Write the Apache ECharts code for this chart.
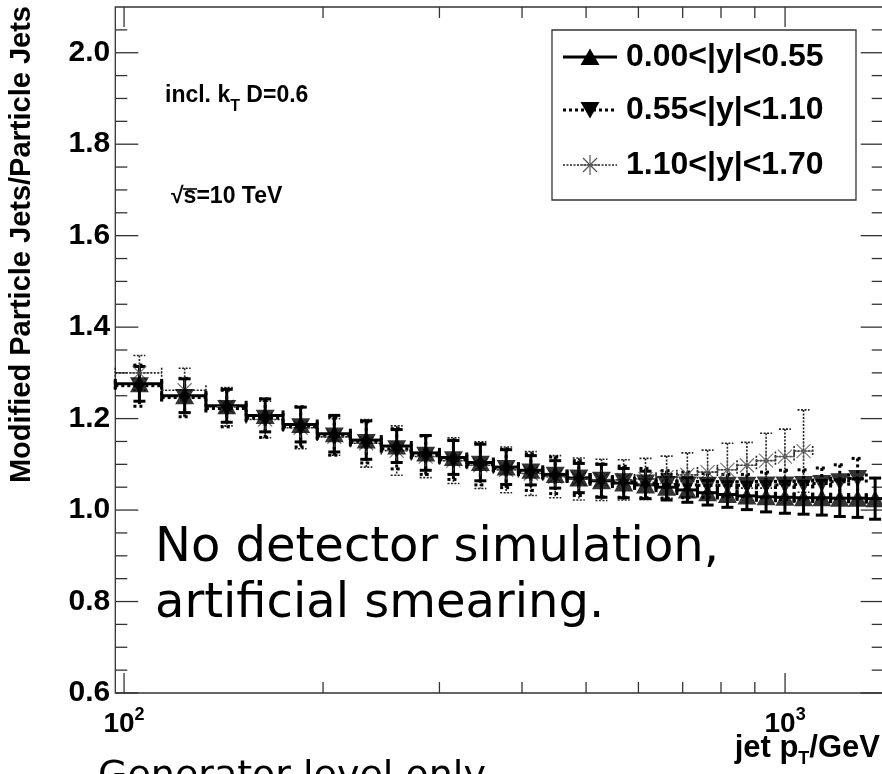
<!DOCTYPE html>
<html>
<head>
<meta charset="utf-8">
<script src="https://cdn.jsdelivr.net/npm/echarts@6/dist/echarts.min.js"></script>
<style>
  html, body { margin: 0; padding: 0; background: #fff; }
  #chart { width: 882px; height: 774px; }
</style>
</head>
<body>
<div id="chart"></div>
<script>
// Jet pT bin edges (GeV)
const binEdges = [97, 114, 133, 153, 174, 196, 220, 245, 272, 300, 330, 362, 395, 430, 468, 507,
  548, 592, 638, 686, 737, 790, 846, 905, 967, 1032, 1101, 1172, 1248, 1327, 1410];

// Ratio modified particle jets / particle jets, per rapidity range
const ratioY000 = [1.276, 1.250, 1.228, 1.207, 1.187, 1.167, 1.153, 1.140, 1.125, 1.115, 1.104, 1.094,
  1.087, 1.078, 1.070, 1.064, 1.059, 1.055, 1.050, 1.044, 1.038, 1.034, 1.031, 1.029, 1.028, 1.027,
  1.027, 1.026, 1.026, 1.025];
const errY000 = [0.038, 0.037, 0.036, 0.036, 0.038, 0.040, 0.042, 0.036, 0.038, 0.037, 0.040, 0.038,
  0.032, 0.030, 0.032, 0.036, 0.032, 0.030, 0.028, 0.027, 0.027, 0.028, 0.030, 0.033, 0.035, 0.036,
  0.038, 0.040, 0.042, 0.045];

const ratioY055 = [1.272, 1.246, 1.222, 1.201, 1.182, 1.162, 1.148, 1.134, 1.120, 1.110, 1.100, 1.091,
  1.083, 1.076, 1.070, 1.065, 1.062, 1.059, 1.056, 1.055, 1.054, 1.054, 1.054, 1.055, 1.055, 1.056,
  1.058, 1.062, 1.069];
const errY055 = [0.045, 0.042, 0.040, 0.042, 0.044, 0.042, 0.045, 0.044, 0.042, 0.043, 0.045, 0.042,
  0.040, 0.040, 0.038, 0.036, 0.034, 0.032, 0.030, 0.028, 0.026, 0.024, 0.024, 0.028, 0.032, 0.032,
  0.034, 0.037, 0.044];

const ratioY110 = [1.300, 1.262, 1.226, 1.198, 1.180, 1.160, 1.146, 1.130, 1.117, 1.108, 1.098, 1.088,
  1.080, 1.073, 1.068, 1.066, 1.066, 1.068, 1.072, 1.077, 1.083, 1.088, 1.098, 1.108, 1.117, 1.129];
const errY110 = [0.038, 0.048, 0.042, 0.040, 0.046, 0.040, 0.052, 0.054, 0.046, 0.050, 0.051, 0.050,
  0.048, 0.046, 0.046, 0.045, 0.044, 0.045, 0.046, 0.048, 0.048, 0.058, 0.050, 0.060, 0.060, 0.090];

const seriesNames = ['0.00<|y|<0.55', '0.55<|y|<1.10', '1.10<|y|<1.70'];

// Axis ticks
const xMajorTicks = [100, 1000];
const xMinorTicks = [200, 300, 400, 500, 600, 700, 800, 900];
const yMajorTicks = [0.6, 0.8, 1.0, 1.2, 1.4, 1.6, 1.8, 2.0];
const yMinorTicks = [0.65, 0.7, 0.75, 0.85, 0.9, 0.95, 1.05, 1.1, 1.15, 1.25, 1.3, 1.35, 1.45, 1.5,
  1.55, 1.65, 1.7, 1.75, 1.85, 1.9, 1.95, 2.05];

const X_MIN = 97, X_MAX = 1410, Y_MIN = 0.6, Y_MAX = 2.1;
const FONT = '"Liberation Sans", Arial, Helvetica, sans-serif';

function errorRows(values, errs) {
  return values.map((v, i) => [binEdges[i], binEdges[i + 1], v, errs[i]]);
}
function markerRows(values) {
  return values.map((v, i) => [(binEdges[i] + binEdges[i + 1]) / 2, v]);
}

// Histogram-style error bars: bin-width horizontal bar and vertical error, both with end caps
function errorBarRenderer(style) {
  return function (params, api) {
    const lo = api.value(0), hi = api.value(1), val = api.value(2), err = api.value(3);
    const pLo = api.coord([lo, val]);
    const pHi = api.coord([hi, val]);
    const xc = api.coord([(lo + hi) / 2, val])[0];
    const yTop = api.coord([lo, val + err])[1];
    const yBot = api.coord([lo, val - err])[1];
    const y = pLo[1];
    const cx = 5, cy = 6;
    const segs = [
      [pLo[0], y, pHi[0], y],
      [pLo[0], y - cx, pLo[0], y + cx],
      [pHi[0], y - cx, pHi[0], y + cx],
      [xc, yTop, xc, yBot],
      [xc - cy, yTop, xc + cy, yTop],
      [xc - cy, yBot, xc + cy, yBot]
    ];
    return {
      type: 'group',
      children: segs.map(s => ({
        type: 'line',
        shape: { x1: s[0], y1: s[1], x2: s[2], y2: s[3] },
        style: { stroke: style.color, lineWidth: style.width, lineDash: style.dash || null, lineCap: 'butt' }
      }))
    };
  };
}

// Ticks on all four sides of the frame
function xTickRenderer(params, api) {
  const cs = params.coordSys;
  const px = api.coord([api.value(0), Y_MIN])[0];
  const len = api.value(2) ? 20 : 11;
  const st = { stroke: '#333', lineWidth: 1.3 };
  return {
    type: 'group',
    children: [
      { type: 'line', shape: { x1: px, y1: cs.y + cs.height, x2: px, y2: cs.y + cs.height - len }, style: st },
      { type: 'line', shape: { x1: px, y1: cs.y, x2: px, y2: cs.y + len }, style: st }
    ]
  };
}
function yTickRenderer(params, api) {
  const cs = params.coordSys;
  const py = api.coord([X_MIN, api.value(1)])[1];
  const len = api.value(2) ? 23 : 12;
  const st = { stroke: '#333', lineWidth: 1.3 };
  return {
    type: 'group',
    children: [
      { type: 'line', shape: { x1: cs.x, y1: py, x2: cs.x + len, y2: py }, style: st },
      { type: 'line', shape: { x1: cs.x + cs.width, y1: py, x2: cs.x + cs.width - len, y2: py }, style: st }
    ]
  };
}

const styleY000 = { color: '#000', width: 3 };
const styleY055 = { color: '#000', width: 3, dash: [3, 3] };
const styleY110 = { color: '#222', width: 1.6, dash: [2, 1.5] };

const starPath = 'path://M10,0L10,20M0,10L20,10M3,3L17,17M3,17L17,3';
const TRI = [19, 17];

const chart = echarts.init(document.getElementById('chart'), null, { renderer: 'canvas' });

const legendX = 552, legendY = 30;
const legendRows = [57, 110, 165];
const legendFont = 'bold 32px ' + FONT;

const option = {
  animation: false,
  backgroundColor: '#fff',
  grid: {
    left: 115.3, top: 7, width: 768.4, height: 686,
    outerBoundsMode: 'none', containLabel: false,
    show: true, borderColor: '#333', borderWidth: 1.3, backgroundColor: 'transparent'
  },
  xAxis: {
    type: 'log', logBase: 10, min: X_MIN, max: X_MAX,
    axisLine: { show: false }, axisTick: { show: false }, splitLine: { show: false },
    axisLabel: {
      interval: 0, hideOverlap: false, margin: 13, color: '#000',
      formatter: function (v) {
        const l = Math.log10(v);
        if (Math.abs(l - Math.round(l)) < 1e-6) return '{b|10}{s|' + Math.round(l) + '}';
        return '';
      },
      rich: {
        b: { fontFamily: FONT, fontWeight: 'bold', fontSize: 28, lineHeight: 36, color: '#000' },
        s: { fontFamily: FONT, fontWeight: 'bold', fontSize: 18, lineHeight: 18, verticalAlign: 'top', color: '#000' }
      }
    }
  },
  yAxis: {
    type: 'value', min: Y_MIN, max: Y_MAX, interval: 0.2,
    axisLine: { show: false }, axisTick: { show: false }, splitLine: { show: false },
    axisLabel: {
      showMaxLabel: false, margin: 5, color: '#000',
      fontFamily: FONT, fontWeight: 'bold', fontSize: 30,
      formatter: v => v.toFixed(1)
    }
  },
  series: [
    { type: 'custom', name: 'xticks', renderItem: xTickRenderer, clip: false, silent: true,
      encode: { x: 0, y: 1 },
      data: xMajorTicks.map(v => [v, Y_MIN, 1]).concat(xMinorTicks.map(v => [v, Y_MIN, 0])) },
    { type: 'custom', name: 'yticks', renderItem: yTickRenderer, clip: false, silent: true,
      encode: { x: 0, y: 1 },
      data: yMajorTicks.map(v => [X_MIN, v, 1]).concat(yMinorTicks.map(v => [X_MIN, v, 0])) },

    // forward rapidity drawn first, central on top
    { type: 'custom', name: seriesNames[2], renderItem: errorBarRenderer(styleY110),
      encode: { x: [0, 1], y: 2 }, data: errorRows(ratioY110, errY110) },
    { type: 'scatter', name: seriesNames[2], symbol: starPath, symbolSize: 20,
      itemStyle: { color: 'none', borderColor: '#555', borderWidth: 1.2 }, data: markerRows(ratioY110) },

    { type: 'custom', name: seriesNames[1], renderItem: errorBarRenderer(styleY055),
      encode: { x: [0, 1], y: 2 }, data: errorRows(ratioY055, errY055) },
    { type: 'scatter', name: seriesNames[1], symbol: 'triangle', symbolRotate: 180, symbolSize: TRI,
      itemStyle: { color: '#000' }, data: markerRows(ratioY055) },

    { type: 'custom', name: seriesNames[0], renderItem: errorBarRenderer(styleY000),
      encode: { x: [0, 1], y: 2 }, data: errorRows(ratioY000, errY000) },
    { type: 'scatter', name: seriesNames[0], symbol: 'triangle', symbolSize: TRI,
      itemStyle: { color: '#000' }, data: markerRows(ratioY000) }
  ],
  graphic: [
    // y-axis title
    { type: 'text', x: 22, y: 6, rotation: Math.PI / 2,
      style: { text: 'Modified Particle Jets/Particle Jets', fill: '#000', font: 'bold 29px ' + FONT,
        align: 'right', verticalAlign: 'middle' } },
    // x-axis title
    { type: 'text', x: 880, y: 728,
      style: { text: '{m|jet p}{sub|T}{m|/GeV}', align: 'right', verticalAlign: 'top',
        rich: {
          m: { fontFamily: FONT, fontWeight: 'bold', fontSize: 31, lineHeight: 40, fill: '#000' },
          sub: { fontFamily: FONT, fontWeight: 'bold', fontSize: 18, lineHeight: 10, verticalAlign: 'bottom', fill: '#000' }
        } } },
    // annotations
    { type: 'text', x: 165, y: 77,
      style: { text: '{m|incl. k}{sub|T}{m| D=0.6}', align: 'left', verticalAlign: 'top',
        rich: {
          m: { fontFamily: FONT, fontWeight: 'bold', fontSize: 23, lineHeight: 38, fill: '#000' },
          sub: { fontFamily: FONT, fontWeight: 'bold', fontSize: 16, lineHeight: 16, verticalAlign: 'bottom', fill: '#000' }
        } } },
    { type: 'text', x: 171, y: 197,
      style: { text: '√s=10 TeV', fill: '#000', font: 'bold 23px ' + FONT, align: 'left', verticalAlign: 'middle' } },
    { type: 'line', shape: { x1: 183, y1: 189, x2: 197, y2: 189 }, style: { stroke: '#000', lineWidth: 1.6 } },
    { type: 'text', x: 155, y: 549,
      style: { text: 'No detector simulation,', fill: '#000', font: '48px "DejaVu Sans"', align: 'left', verticalAlign: 'middle' } },
    { type: 'text', x: 155, y: 605,
      style: { text: 'artificial smearing.', fill: '#000', font: '48px "DejaVu Sans"', align: 'left', verticalAlign: 'middle' } },
    { type: 'text', x: 98, y: 777,
      style: { text: 'Generator level only', fill: '#000', font: '38px "DejaVu Sans"', align: 'left', verticalAlign: 'middle' } },

    // legend
    { type: 'rect', shape: { x: legendX, y: legendY, width: 304, height: 170 },
      style: { fill: '#fff', stroke: '#333', lineWidth: 1.3 } },
    { type: 'line', shape: { x1: 563, y1: legendRows[0], x2: 617, y2: legendRows[0] },
      style: { stroke: '#000', lineWidth: 3 } },
    { type: 'polygon', shape: { points: [[590, legendRows[0] - 8.5], [599.5, legendRows[0] + 8], [580.5, legendRows[0] + 8]] },
      style: { fill: '#000' } },
    { type: 'line', shape: { x1: 563, y1: legendRows[1], x2: 617, y2: legendRows[1] },
      style: { stroke: '#000', lineWidth: 3, lineDash: [3, 3] } },
    { type: 'polygon', shape: { points: [[590, legendRows[1] + 8.5], [599.5, legendRows[1] - 8], [580.5, legendRows[1] - 8]] },
      style: { fill: '#000' } },
    { type: 'line', shape: { x1: 563, y1: legendRows[2], x2: 617, y2: legendRows[2] },
      style: { stroke: '#222', lineWidth: 1.6, lineDash: [2, 1.5] } },
    { type: 'group', x: 580, y: legendRows[2] - 10, children: [
      { type: 'line', shape: { x1: 10, y1: 0, x2: 10, y2: 20 }, style: { stroke: '#555', lineWidth: 1.2 } },
      { type: 'line', shape: { x1: 0, y1: 10, x2: 20, y2: 10 }, style: { stroke: '#555', lineWidth: 1.2 } },
      { type: 'line', shape: { x1: 3, y1: 3, x2: 17, y2: 17 }, style: { stroke: '#555', lineWidth: 1.2 } },
      { type: 'line', shape: { x1: 3, y1: 17, x2: 17, y2: 3 }, style: { stroke: '#555', lineWidth: 1.2 } }
    ] },
    { type: 'text', x: 626, y: legendRows[0],
      style: { text: seriesNames[0], fill: '#000', font: legendFont, align: 'left', verticalAlign: 'middle' } },
    { type: 'text', x: 626, y: legendRows[1],
      style: { text: seriesNames[1], fill: '#000', font: legendFont, align: 'left', verticalAlign: 'middle' } },
    { type: 'text', x: 626, y: legendRows[2],
      style: { text: seriesNames[2], fill: '#000', font: legendFont, align: 'left', verticalAlign: 'middle' } }
  ]
};

chart.setOption(option);
</script>
</body>
</html>
